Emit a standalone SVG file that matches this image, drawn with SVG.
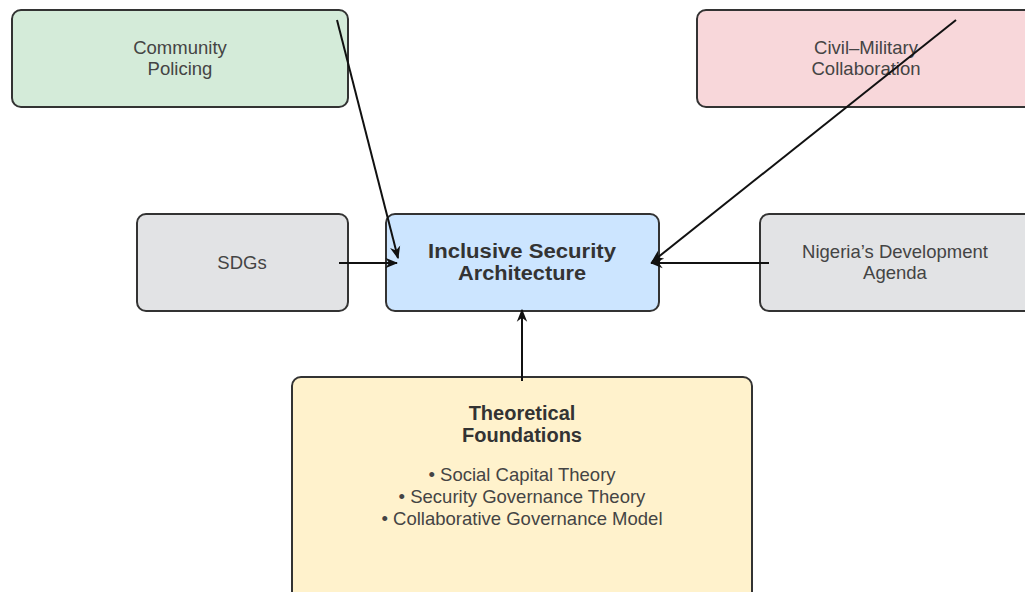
<svg xmlns="http://www.w3.org/2000/svg" width="1025" height="592" viewBox="0 0 1025 592">
  <style>
    .box { stroke: #333333; stroke-width: 2; }
    .t { font-family: "Liberation Sans", Arial, sans-serif; font-size: 18.5px; fill: #444444; text-anchor: middle; }
    .tb { font-family: "Liberation Sans", Arial, sans-serif; font-weight: bold; fill: #333333; text-anchor: middle; }
    .edge { stroke: #111111; stroke-width: 2; fill: none; marker-end: url(#arrow); }
  </style>
  <defs>
    <marker id="arrow" viewBox="0 0 10 10" refX="9" refY="5" markerWidth="6.5" markerHeight="6.5" orient="auto" markerUnits="strokeWidth">
      <path d="M0,1 L10,5 L0,9 L3,5 Z" fill="#111111"/>
    </marker>
  </defs>
  <rect width="1025" height="592" fill="#ffffff"/>

  <g id="community-policing">
    <rect class="box" x="12" y="10" width="336" height="97" rx="9" fill="#d4ebd9"/>
    <text class="t" x="180" y="54">Community</text>
    <text class="t" x="180" y="75">Policing</text>
  </g>

  <g id="civil-military">
    <rect class="box" x="697" y="10" width="340" height="97" rx="9" fill="#f8d7da"/>
    <text class="t" x="866" y="54">Civil–Military</text>
    <text class="t" x="866" y="75">Collaboration</text>
  </g>

  <g id="sdgs">
    <rect class="box" x="137" y="214" width="211" height="97" rx="9" fill="#e2e3e5"/>
    <text class="t" x="242" y="269">SDGs</text>
  </g>

  <g id="inclusive-security">
    <rect class="box" x="386" y="214" width="273" height="97" rx="9" fill="#cce5ff"/>
    <text class="tb" x="522" y="258" font-size="20" textLength="188" lengthAdjust="spacingAndGlyphs">Inclusive Security</text>
    <text class="tb" x="522" y="280" font-size="20" textLength="128" lengthAdjust="spacingAndGlyphs">Architecture</text>
  </g>

  <g id="nigeria-agenda">
    <rect class="box" x="760" y="214" width="277" height="97" rx="9" fill="#e2e3e5"/>
    <text class="t" x="895" y="258">Nigeria’s Development</text>
    <text class="t" x="895" y="279">Agenda</text>
  </g>

  <g id="theoretical-foundations">
    <rect class="box" x="292" y="377" width="460" height="230" rx="9" fill="#fff2cc"/>
    <text class="tb" x="522" y="420" font-size="20">Theoretical</text>
    <text class="tb" x="522" y="442" font-size="20">Foundations</text>
    <text class="t" x="522" y="481">• Social Capital Theory</text>
    <text class="t" x="522" y="503">• Security Governance Theory</text>
    <text class="t" x="522" y="525">• Collaborative Governance Model</text>
  </g>

  <g id="connectors">
    <line class="edge" x1="337" y1="20" x2="398" y2="258"/>
    <line class="edge" x1="956" y1="20" x2="652" y2="262"/>
    <line class="edge" x1="339" y1="263" x2="397" y2="263"/>
    <line class="edge" x1="769" y1="263" x2="651" y2="263"/>
    <line class="edge" x1="522" y1="381" x2="522" y2="310"/>
  </g>
</svg>
